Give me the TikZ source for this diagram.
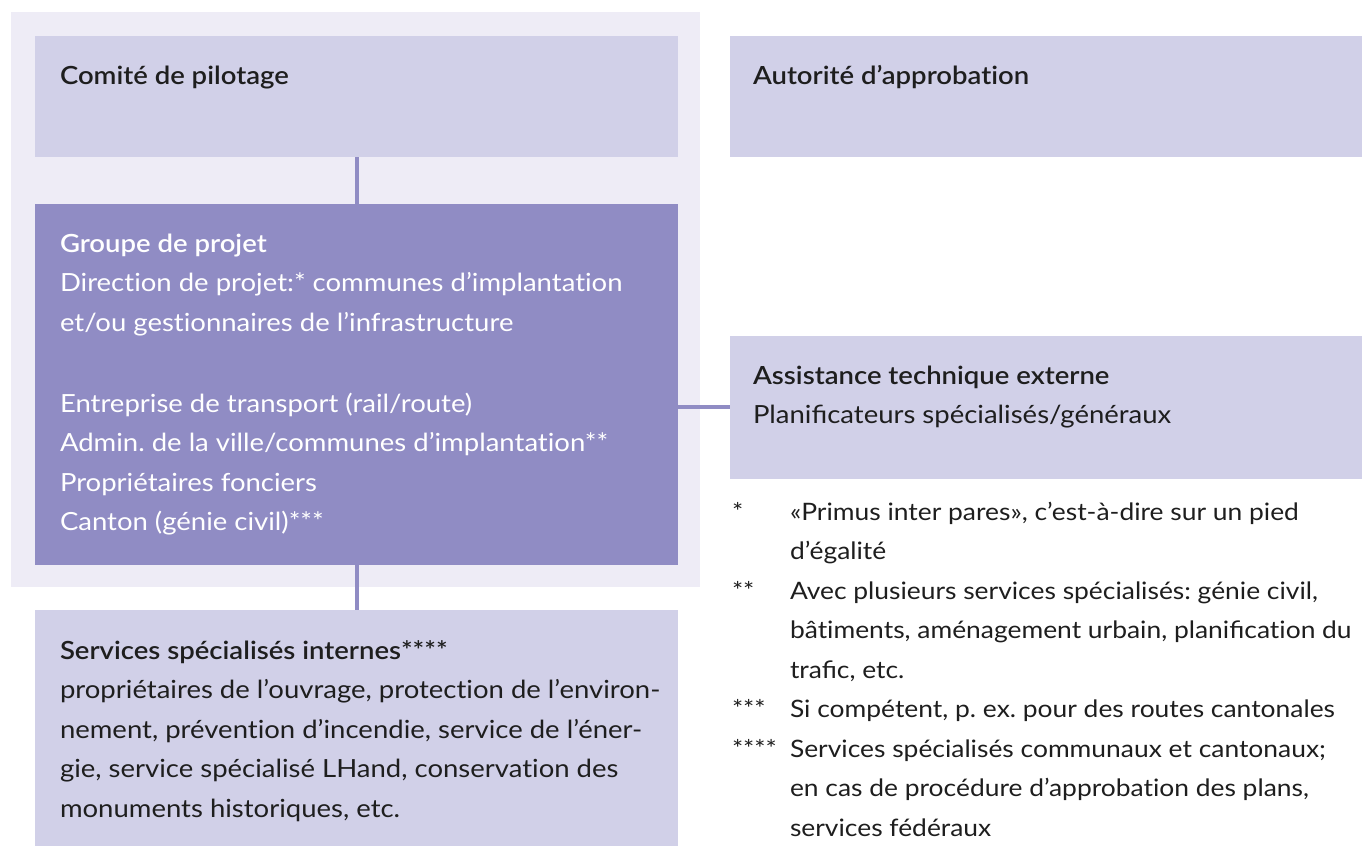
\documentclass[tikz,border=0pt]{standalone}
\usepackage{fontspec}
\setmainfont{Lato}[FakeStretch=1.1,Ligatures=NoCommon,BoldFont={Lato Semibold}]
\frenchspacing
\definecolor{outerbg}{HTML}{EEECF6}
\definecolor{lightbox}{HTML}{D1D0E8}
\definecolor{darkbox}{HTML}{908CC4}
\definecolor{ink}{HTML}{1E1E1E}
% invisible rule fixing the first baseline 30pt below a node's top
\newcommand\ftop{\rule{0pt}{30pt}}
\begin{document}
\begin{tikzpicture}[x=1pt,y=-1pt,
  box/.style={draw=none,inner sep=0,outer sep=0,anchor=north west},
  lightbx/.style={box,fill=lightbox},
  darkbx/.style={box,fill=darkbox},
  txt/.style={inner sep=0,outer sep=0,anchor=north west,align=left,
    font=\fontsize{25}{39.5}\selectfont,text=ink},
  note/.style={txt,font=\fontsize{24}{39.5}\selectfont},
  link/.style={draw=darkbox,line width=4pt}]
\useasboundingbox (0,0) rectangle (1362,846);
% frame around the project organisation
\fill[outerbg] (11,12) rectangle (700,587);
% boxes
\node[lightbx,minimum width=643,minimum height=121] (comite) at (35,36) {};
\node[darkbx,minimum width=643,minimum height=361] (groupe) at (35,204) {};
\node[lightbx,minimum width=643,minimum height=236] (services) at (35,610) {};
\node[lightbx,minimum width=632,minimum height=121] (autorite) at (730,36) {};
\node[lightbx,minimum width=632,minimum height=143] (assist) at (730,336) {};
% connectors
\draw[link] (comite.south) -- (groupe.north);
\draw[link] (groupe.south) -- (services.north);
\draw[link] (groupe.east |- 0,407) -- (assist.west |- 0,407);
% texts
\node[txt] (tcomite) at (60,54) {\ftop\bfseries Comité de pilotage};
\node[txt] (tautorite) at (753,54) {\ftop\bfseries Autorité d’approbation};
\node[txt,text=white] (tgroupe) at (60,222) {\ftop\bfseries Groupe de projet\\
Direction de projet:* communes d’implantation\\
et/ou gestionnaires de l’infrastructure\\[41.5pt]
Entreprise de transport (rail/route)\\
Admin. de la ville/communes d’implantation**\\
Propriétaires fonciers\\
Canton (génie civil)***};
\node[txt] (tassist) at (753,354) {\ftop\bfseries Assistance technique externe\\
Planiﬁcateurs spécialisés/généraux};
\node[txt] (tservices) at (60,629) {\ftop\bfseries Services spécialisés internes****\\
propriétaires de l’ouvrage, protection de l’environ-\\
nement, prévention d’incendie, service de l’éner-\\
gie, service spécialisé LHand, conservation des\\
monuments historiques, etc.};
% footnotes
\node[note] (m1) at (732,490) {\ftop*};
\node[note] (f1) at (790,490) {\ftop«Primus inter pares», c’est-à-dire sur un pied\\d’égalité};
\node[note] (m2) at (732,569) {\ftop**};
\node[note] (f2) at (790,569) {\ftop Avec plusieurs services spécialisés: génie civil,\\
bâtiments, aménagement urbain, planiﬁcation du\\traﬁc, etc.};
\node[note] (m3) at (732,687.5) {\ftop***};
\node[note] (f3) at (790,687.5) {\ftop Si compétent, p. ex. pour des routes cantonales};
\node[note] (m4) at (732,727) {\ftop****};
\node[note] (f4) at (790,727) {\ftop Services spécialisés communaux et cantonaux;\\
en cas de procédure d’approbation des plans,\\services fédéraux};
\end{tikzpicture}
\end{document}
